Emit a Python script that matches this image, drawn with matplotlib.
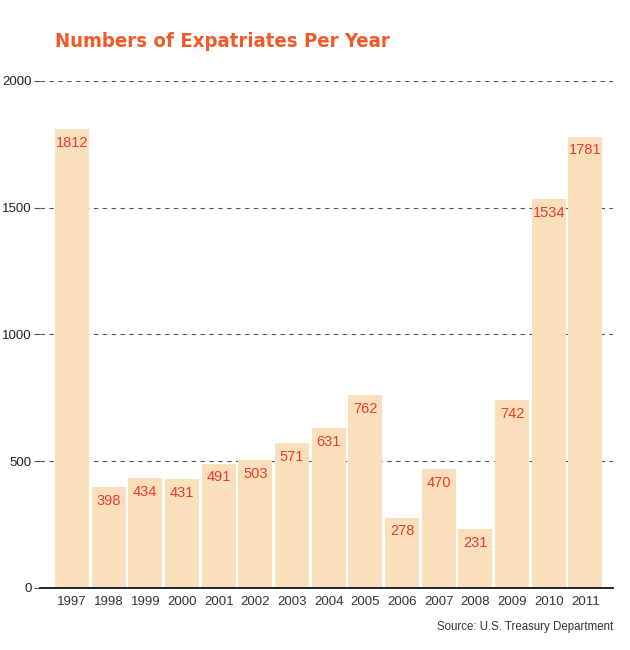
import matplotlib
matplotlib.use('Agg')
import matplotlib.pyplot as plt

years = ['1997', '1998', '1999', '2000', '2001', '2002', '2003', '2004',
         '2005', '2006', '2007', '2008', '2009', '2010', '2011']
expats = [1812, 398, 434, 431, 491, 503, 571, 631, 762, 278, 470, 231, 742, 1534, 1781]
yticks = [0, 500, 1000, 1500, 2000]

bar_color = '#fadfbd'
label_color = '#ee3b2b'
title_color = '#f15a29'

plt.rcParams['font.family'] = ['Liberation Sans', 'DejaVu Sans']

fig = plt.figure(figsize=(6.3, 6.5), dpi=100)
ax = fig.add_axes([0.0635, 0.0954, 0.91, 0.78])

x = list(range(len(years)))
rects = ax.bar(x, expats, width=0.93, color=bar_color, zorder=2)

for rect, v in zip(rects, expats):
    ax.annotate(str(v), xy=(rect.get_x() + rect.get_width() / 2, v),
                xytext=(0, -5), textcoords='offset points',
                ha='center', va='top', color=label_color, fontsize=10.5, zorder=3)

ax.set_xlim(-0.87, 14.76)
ax.set_ylim(0, 2000)
ax.set_yticks(yticks)
ax.set_xticks(x)
ax.set_xticklabels(years)

for t in yticks[1:]:
    ax.axhline(t, color='#555555', linestyle=(0, (4, 4)), linewidth=0.8, zorder=1)
ax.axhline(0, color='black', linewidth=1.2, zorder=4, clip_on=False)

for s in ['top', 'right', 'left', 'bottom']:
    ax.spines[s].set_visible(False)

ax.tick_params(axis='y', length=4, width=0.8, color='#555555', pad=2,
               labelsize=9.5, labelcolor='#222222')
ax.tick_params(axis='x', length=0, pad=6, labelsize=9.5, labelcolor='#333333')

fig.text(0.087, 0.936, 'Numbers of Expatriates Per Year', color=title_color,
         fontsize=14.6, fontweight='bold', fontstretch='condensed',
         family=['DejaVu Sans'], ha='left', va='center')
fig.text(0.973, 0.035, 'Source: U.S. Treasury Department', color='#333333',
         fontsize=8.3, ha='right', va='center')

plt.savefig('out.png', dpi=100)
